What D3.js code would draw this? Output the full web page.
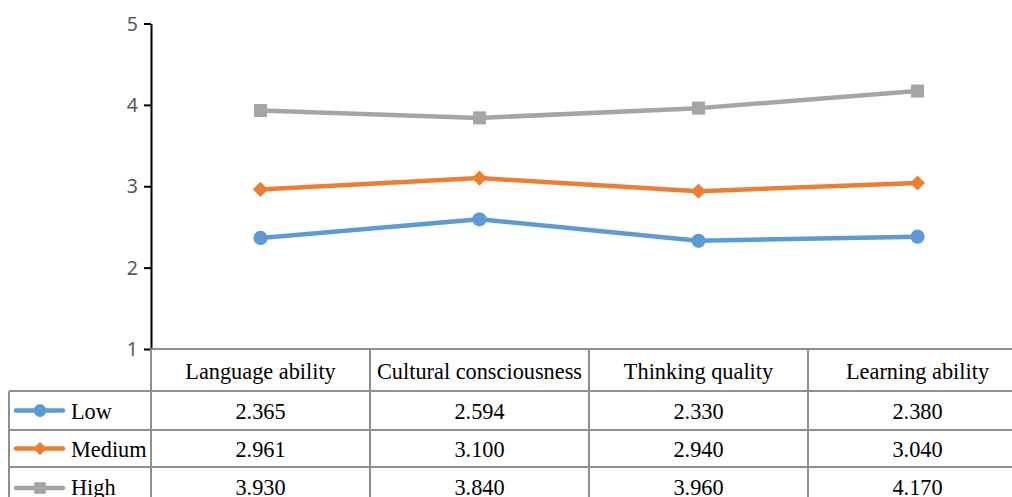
<!DOCTYPE html>
<html><head><meta charset="utf-8">
<script src="https://cdn.jsdelivr.net/npm/d3@7"></script>
<style>body{margin:0;background:#fff}svg{display:block}</style>
</head><body>
<svg id="c" width="1012" height="497"></svg>
<script>
const categories = ["Language ability","Cultural consciousness","Thinking quality","Learning ability"];
const seriesNames = ["Low","Medium","High"];
const lowValues = [2.365, 2.594, 2.330, 2.380];
const mediumValues = [2.961, 3.100, 2.940, 3.040];
const highValues = [3.930, 3.840, 3.960, 4.170];
const valueLabels = [
  ["2.365","2.594","2.330","2.380"],
  ["2.961","3.100","2.940","3.040"],
  ["3.930","3.840","3.960","4.170"]
];
const yTicks = [1,2,3,4,5];

const seriesValues = [lowValues, mediumValues, highValues];
const colors = ["#5B9BD5","#ED7D31","#A5A5A5"];
const markers = [d3.symbolCircle, d3.symbolSquare, d3.symbolSquare];
const markerRot = [0, 45, 0];
const markerSizes = [160, 115, 170];

const svg = d3.select("#c");
const x = d3.scaleBand().domain(categories).range([151, 1027]).padding(0);
const y = d3.scaleLinear().domain([1,5]).range([349, 23.5]);

// axis
const ax = svg.append("g").attr("transform","translate(151,0)")
  .call(d3.axisLeft(y).tickValues(yTicks).tickSize(7).tickSizeOuter(0).tickFormat(d3.format("d")));
ax.select(".domain").attr("stroke","#000").attr("stroke-width",2);
ax.selectAll(".tick line").attr("stroke","#000").attr("stroke-width",2);
ax.selectAll(".tick text").attr("fill","#595959").attr("font-family","'Noto Sans', sans-serif")
  .attr("font-size",19.5).attr("x",-13).attr("dy","0.34em");

// lines
const line = d3.line().x((d,i)=>x(categories[i])+x.bandwidth()/2).y(d=>y(d));
seriesValues.forEach((vals,s)=>{
  svg.append("path").datum(vals).attr("d",line).attr("fill","none")
    .attr("stroke",colors[s]).attr("stroke-width",4.5).attr("stroke-linejoin","round");
  svg.selectAll(null).data(vals).enter().append("path")
    .attr("d",d3.symbol().type(markers[s]).size(markerSizes[s]))
    .attr("transform",(d,i)=>`translate(${x(categories[i])+x.bandwidth()/2},${y(d)}) rotate(${markerRot[s]})`)
    .attr("fill",colors[s]);
});

// data table
const rowEdges = [349, 391, 430, 467, 505];
const tableLeft = 9, gridColor = "#8f8f8f", gw = 2;
const g = svg.append("g");
rowEdges.slice(0,4).forEach((ry,i)=>{
  g.append("line").attr("x1", i===0 ? 151 : tableLeft).attr("x2",1012).attr("y1",ry).attr("y2",ry)
    .attr("stroke",gridColor).attr("stroke-width",gw);
});
g.append("line").attr("x1",tableLeft).attr("x2",tableLeft).attr("y1",rowEdges[1]).attr("y2",497)
  .attr("stroke",gridColor).attr("stroke-width",gw);
categories.forEach(c=>{
  const vx = x(c);
  g.append("line").attr("x1",vx).attr("x2",vx).attr("y1",rowEdges[0]).attr("y2",497)
    .attr("stroke",gridColor).attr("stroke-width",gw);
});
const serif = "'Liberation Serif','Times New Roman',serif";
function cellText(txt, cx, cy, anchor){
  g.append("text").text(txt).attr("font-family",serif).attr("font-size",24).attr("fill","#000")
    .attr("text-anchor",anchor)
    .attr("transform",`translate(${cx},${cy}) scale(0.93,1)`);
}
categories.forEach(c=>{
  cellText(c, x(c)+x.bandwidth()/2, rowEdges[0]+30, "middle");
});
seriesNames.forEach((n,s)=>{
  const top = rowEdges[s+1], bot = rowEdges[s+2];
  const cy = (top+bot)/2;
  categories.forEach((c,i)=>{
    cellText(valueLabels[s][i], x(c)+x.bandwidth()/2, cy+8.5, "middle");
  });
  const ly = (s===2) ? 488 : cy;
  g.append("line").attr("x1",16).attr("x2",63).attr("y1",ly).attr("y2",ly)
    .attr("stroke",colors[s]).attr("stroke-width",4.5).attr("stroke-linecap","round");
  g.append("path").attr("d",d3.symbol().type(markers[s]).size(markerSizes[s]*0.8))
    .attr("transform",`translate(40,${ly}) rotate(${markerRot[s]})`).attr("fill",colors[s]);
  cellText(n, 71, cy+8.5, "start");
});
</script>
</body></html>
